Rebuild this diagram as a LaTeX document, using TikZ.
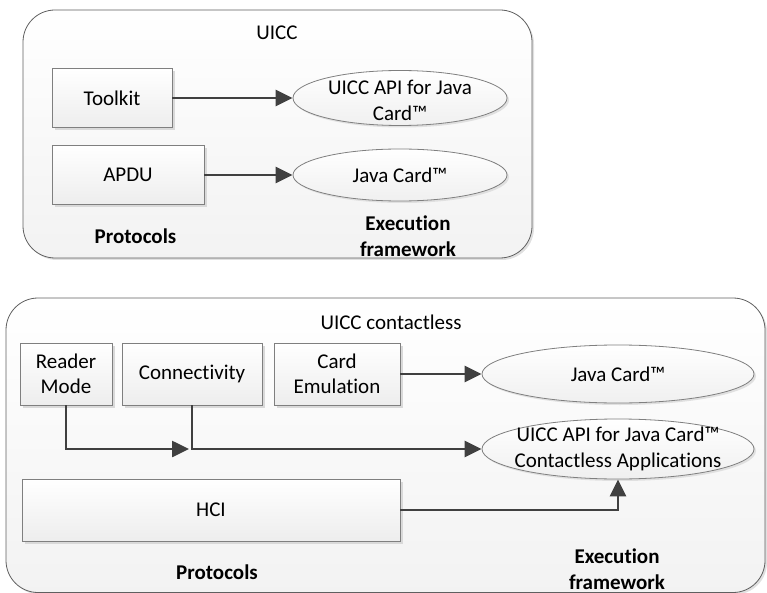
\documentclass[tikz,border=0pt]{standalone}
\usepackage{fontspec}
\setmainfont{Carlito}[Ligatures={NoCommon}]
\usetikzlibrary{arrows.meta,shapes.geometric,shadows}
\definecolor{conn}{HTML}{404040}
\definecolor{edge}{HTML}{7F7F7F}
\definecolor{cont}{HTML}{5F5F5F}
\tikzset{
  container/.style={draw=cont,line width=0.8pt,rounded corners=32pt,top color=white,bottom color=black!5,
     drop shadow={shadow xshift=2pt,shadow yshift=-2pt,fill=black!12,opacity=1}},
  protobox/.style={draw=edge,line width=0.8pt,rectangle,top color=white,bottom color=black!7,
     drop shadow={shadow xshift=3pt,shadow yshift=-3pt,fill=black!15,opacity=1},
     align=center,inner sep=0pt},
  execell/.style={draw=edge,line width=0.8pt,ellipse,top color=white,bottom color=black!6,
     drop shadow={shadow xshift=2pt,shadow yshift=-2pt,fill=black!12,opacity=1},inner sep=0pt},
  txt/.style={align=center,inner sep=0pt,font=\fontsize{21}{25.5}\selectfont},
  btxt/.style={align=center,inner sep=0pt,font=\fontsize{21}{25.5}\selectfont\bfseries},
  link/.style={draw=conn,line width=2.6pt,-{Triangle[length=17pt,width=16pt]}},
}
\begin{document}
\begin{tikzpicture}[x=1pt,y=-1pt,font=\fontsize{21}{25.5}\selectfont]
\useasboundingbox (0,0) rectangle (767,593);
\clip (0,0) rectangle (767,593);
% ---------- top container ----------
\draw[container] (23,10) rectangle (532,258);
\node[txt] (t1) at (277,33) {UICC};
\node[protobox,minimum width=120pt,minimum height=59pt] (tk) at (112,98) {Toolkit};
\node[protobox,minimum width=152pt,minimum height=59pt] (apdu) at (128,175) {APDU};
\node[execell,minimum width=214pt,minimum height=55pt] (e1) at (400,98) {};
\node[txt] (e1t) at (400,100.5) {UICC API for Java\\Card™};
\node[execell,minimum width=214pt,minimum height=52pt] (e2) at (400,175) {};
\node[txt] (e2t) at (400,175) {Java Card™};
\node[btxt] (p1) at (135.5,236) {Protocols};
\node[btxt] (x1) at (408,236) {Execution\\framework};
\draw[link] (tk.east) -- (e1.west);
\draw[link] (apdu.east) -- (e2.west);
% ---------- bottom container ----------
\draw[container] (6,298) rectangle (765,592.5);
\node[txt] (t2) at (391,322) {UICC contactless};
\node[protobox,minimum width=92pt,minimum height=62pt] (rm) at (66,374) {Reader\\Mode};
\node[protobox,minimum width=140pt,minimum height=62pt] (cn) at (192,374) {Connectivity};
\node[protobox,minimum width=126pt,minimum height=62pt] (ce) at (337,374) {Card\\Emulation};
\node[protobox,minimum width=378pt,minimum height=62pt] (hci) at (211,510) {HCI};
\node[execell,minimum width=272pt,minimum height=58pt] (e3) at (618,374) {};
\node[txt] (e3t) at (618,374) {Java Card™};
\node[execell,minimum width=272pt,minimum height=60pt] (e4) at (618,449) {};
\node[txt] (e4t) at (618,449) {UICC API for Java Card™\\Contactless Applications};
\node[btxt] (p2) at (217,572) {Protocols};
\node[btxt] (x2) at (617,569) {Execution\\framework};
\coordinate (rmtip) at (189,449);
\draw[link] (ce.east) -- (e3.west);
\draw[link] (rm.south) |- (rmtip);
\draw[link] (cn.south) |- (e4.west);
\draw[link] (hci.east) -| (e4.south);
\end{tikzpicture}
\end{document}
